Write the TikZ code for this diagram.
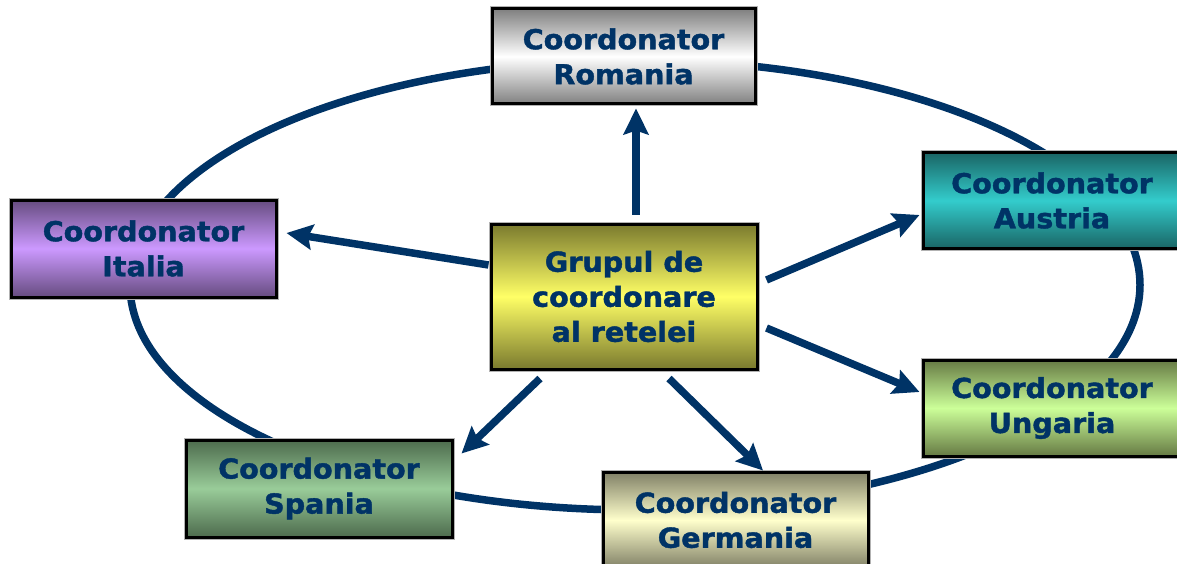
\documentclass[tikz,border=0pt]{standalone}
\usepackage{fontspec}
\newfontfamily\boxfont[FakeStretch=1.04,FakeBold=1.5]{DejaVu Sans}
\usetikzlibrary{calc,arrows.meta}
\definecolor{navy}{RGB}{0,51,102}
\definecolor{romE}{RGB}{128,128,128}
\definecolor{cenE}{RGB}{122,122,46}
\definecolor{cenM}{RGB}{255,255,102}
\definecolor{ausE}{RGB}{26,102,102}
\definecolor{ausM}{RGB}{51,204,204}
\definecolor{ungE}{RGB}{102,122,68}
\definecolor{ungM}{RGB}{204,255,153}
\definecolor{itaE}{RGB}{102,76,128}
\definecolor{itaM}{RGB}{204,153,255}
\definecolor{spaE}{RGB}{77,107,77}
\definecolor{spaM}{RGB}{153,204,153}
\definecolor{gerE}{RGB}{128,128,102}
\definecolor{gerM}{RGB}{255,255,204}
\tikzset{
  cbox/.style 2 args={rectangle, inner sep=0pt, minimum width=265pt, minimum height=96pt,
    align=center, text=navy, font=\boxfont\bfseries\fontsize{27.5}{35}\selectfont,
    top color=#1, bottom color=#1, middle color=#2,
    draw=black, line width=3pt,
    preaction={draw=black!30, line width=5pt}},
  ring/.style={draw=navy, line width=7.5pt},
  flow/.style={draw=navy, line width=7.5pt, -{Stealth[length=26pt,width=25pt,inset=4pt]}},
}
\begin{document}
\begin{tikzpicture}[x=1pt,y=-1pt]
\useasboundingbox (0,0) rectangle (1177,564);
\draw[ring] (635,285) ellipse [x radius=505, y radius=225];
\node[cbox={romE}{white}, minimum width=263pt, minimum height=95pt] (r) at (623.5,56.5) {Coordonator\\Romania};
\node[cbox={cenE}{cenM}, minimum width=266pt, minimum height=145pt] (c) at (624,296.5) {Grupul de\\coordonare\\al retelei};
\node[cbox={ausE}{ausM}, minimum width=258pt, minimum height=95pt] (at) at (1052,200.5) {Coordonator\\Austria};
\node[cbox={ungE}{ungM}, minimum width=258pt, minimum height=96pt] (u) at (1052,408) {Coordonator\\Ungaria};
\node[cbox={itaE}{itaM}, minimum width=265pt, minimum height=97pt] (i) at (143.5,248.5) {Coordonator\\Italia};
\node[cbox={spaE}{spaM}, minimum width=266pt, minimum height=97pt] (s) at (319,488.5) {Coordonator\\Spania};
\node[cbox={gerE}{gerM}, minimum width=265pt, minimum height=96pt] (g) at (735.5,520) {Coordonator\\Germania};
\draw[flow] ($(c.north)+(12,-8)$) -- ($(r.south)+(12.5,3)$);
\draw[flow] ($(c.west)+(-1,-31.5)$) -- ($(i.east)+(9,-15.5)$);
\draw[flow] ($(c.east)+(8,-16.5)$) -- ($(at.west)+(-2,14.5)$);
\draw[flow] ($(c.east)+(8,31.5)$) -- ($(u.west)+(-2,-16)$);
\draw[flow] ($(c.south)+(-84,8)$) -- ($(s.north east)+(8,15)$);
\draw[flow] ($(c.south)+(45,8)$) -- ($(g.north)+(27.5,0)$);
\end{tikzpicture}
\end{document}
